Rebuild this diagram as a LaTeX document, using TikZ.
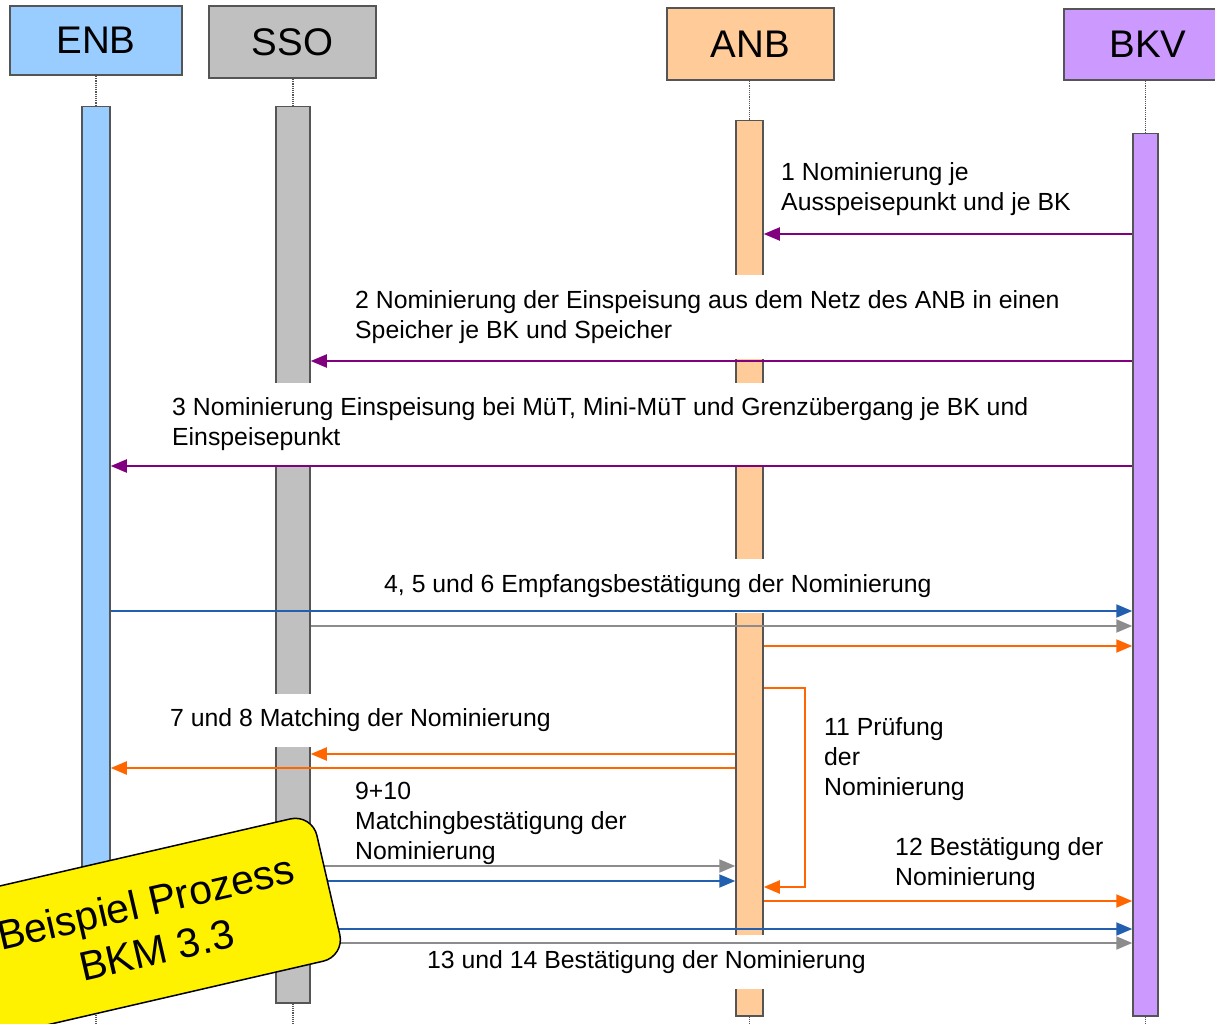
\documentclass[tikz,border=0pt]{standalone}
\usepackage{fontspec}
\setmainfont{Liberation Sans}
\usetikzlibrary{arrows.meta}
\definecolor{enbc}{HTML}{99CCFF}
\definecolor{ssoc}{HTML}{C0C0C0}
\definecolor{anbc}{HTML}{FFCC99}
\definecolor{bkvc}{HTML}{CC99FF}
\definecolor{purp}{HTML}{800080}
\definecolor{blu}{RGB}{35,95,175}
\definecolor{gry}{RGB}{140,140,140}
\definecolor{orng}{HTML}{FF6600}
\definecolor{edgec}{RGB}{85,85,85}
\begin{document}
\begin{tikzpicture}[x=1pt,y=-1pt,
  header/.style={draw=edgec, line width=2pt, inner sep=0pt, font=\fontsize{38.5}{46}\selectfont},
  bar/.style={draw=edgec, line width=1.5pt, inner sep=0pt, anchor=north},
  life/.style={draw=edgec, densely dotted, line width=1.2pt},
  lbl/.style={fill=white, inner xsep=0pt, inner ysep=15pt, align=left, anchor=west, font=\fontsize{24.8}{30}\selectfont},
  msg/.style={line width=2pt, -{Triangle[length=16pt,width=13pt]}},
  notebox/.style={draw=black, line width=1.5pt, fill=yellow, rounded corners=22pt, align=center, font=\fontsize{41}{49}\selectfont}
]
\useasboundingbox (0,0) rectangle (1215,1024);
\fill[white] (0,0) rectangle (1215,1024);

% headers
\node[header, fill=enbc, minimum width=172, minimum height=69] (enbh) at (96,40.5) {ENB};
\node[header, fill=ssoc, minimum width=167, minimum height=72] (ssoh) at (292.5,42) {SSO};
\node[header, fill=anbc, minimum width=167, minimum height=72] (anbh) at (750.5,44) {ANB};
\node[header, fill=bkvc, minimum width=168, minimum height=71] (bkvh) at (1148,44.5) {BKV};

% activation bars
\node[bar, fill=enbc, minimum width=28, minimum height=896] (enbbar) at (96,106) {};
\node[bar, fill=ssoc, minimum width=34, minimum height=896] (ssobar) at (293,106) {};
\node[bar, fill=anbc, minimum width=27, minimum height=895] (anbbar) at (749.5,120) {};
\node[bar, fill=bkvc, minimum width=25, minimum height=882] (bkvbar) at (1145.5,133) {};

% lifelines
\coordinate (bot) at (0,1024);
\draw[life] (enbbar.north |- enbh.south) -- (enbbar.north);
\draw[life] (ssobar.north |- ssoh.south) -- (ssobar.north);
\draw[life] (anbbar.north |- anbh.south) -- (anbbar.north);
\draw[life] (bkvbar.north |- bkvh.south) -- (bkvbar.north);
\draw[life] (enbbar.south) -- (enbbar.south |- bot);
\draw[life] (ssobar.south) -- (ssobar.south |- bot);
\draw[life] (anbbar.south) -- (anbbar.south |- bot);
\draw[life] (bkvbar.south) -- (bkvbar.south |- bot);

% labels
\node[lbl] (l1) at (781,189) {1 Nominierung je\\Ausspeisepunkt und je BK};
\node[lbl] (l2) at (355,317) {2 Nominierung der Einspeisung aus dem Netz des ANB in einen\\Speicher je BK und Speicher};
\node[lbl] (l3) at (172,424.5) {3 Nominierung Einspeisung bei MüT, Mini-MüT und Grenzübergang je BK und\\Einspeisepunkt};
\node[lbl] (l4) at (384,586) {4, 5 und 6 Empfangsbestätigung der Nominierung};
\node[lbl] (l7) at (170,720.5) {7 und 8 Matching der Nominierung};
\node[lbl] (l9) at (355,823) {9+10\\Matchingbestätigung der\\Nominierung};
\node[lbl] (l11) at (824,759) {11 Prüfung\\der\\Nominierung};
\node[lbl] (l12) at (895,864) {12 Bestätigung der\\Nominierung};
\node[lbl] (l13) at (427,962) {13 und 14 Bestätigung der Nominierung};

% message levels
\coordinate (y1) at (0,234);
\coordinate (y2) at (0,361);
\coordinate (y3) at (0,466);
\coordinate (y4) at (0,611);
\coordinate (y5) at (0,626);
\coordinate (y6) at (0,646);
\coordinate (ya) at (0,688);
\coordinate (yb) at (0,887);
\coordinate (y7) at (0,754);
\coordinate (y8) at (0,768);
\coordinate (y9) at (0,866);
\coordinate (y10) at (0,881);
\coordinate (y12) at (0,901);
\coordinate (y13) at (0,929);
\coordinate (y14) at (0,943);
\coordinate (loopx) at (805,0);

% messages
\draw[msg, purp] (bkvbar.west |- y1) -- (anbbar.east |- y1);
\draw[msg, purp] (bkvbar.west |- y2) -- (ssobar.east |- y2);
\draw[msg, purp] (bkvbar.west |- y3) -- (enbbar.east |- y3);
\draw[msg, blu] (enbbar.east |- y4) -- (bkvbar.west |- y4);
\draw[msg, gry] (ssobar.east |- y5) -- (bkvbar.west |- y5);
\draw[msg, orng] (anbbar.east |- y6) -- (bkvbar.west |- y6);
\draw[msg, orng] (anbbar.east |- ya) -- (loopx |- ya) -- (loopx |- yb) -- (anbbar.east |- yb);
\draw[msg, orng] (anbbar.west |- y7) -- (ssobar.east |- y7);
\draw[msg, orng] (anbbar.west |- y8) -- (enbbar.east |- y8);
\draw[msg, gry] (ssobar.east |- y9) -- (anbbar.west |- y9);
\draw[msg, blu] (enbbar.east |- y10) -- (anbbar.west |- y10);
\draw[msg, orng] (anbbar.east |- y12) -- (bkvbar.west |- y12);
\draw[msg, blu] (enbbar.east |- y13) -- (bkvbar.west |- y13);
\draw[msg, gry] (ssobar.east |- y14) -- (bkvbar.west |- y14);

% note
\node[notebox, rotate=13, minimum width=364, minimum height=146] (note) at (151,926) {Beispiel Prozess\\BKM 3.3};
\end{tikzpicture}
\end{document}
